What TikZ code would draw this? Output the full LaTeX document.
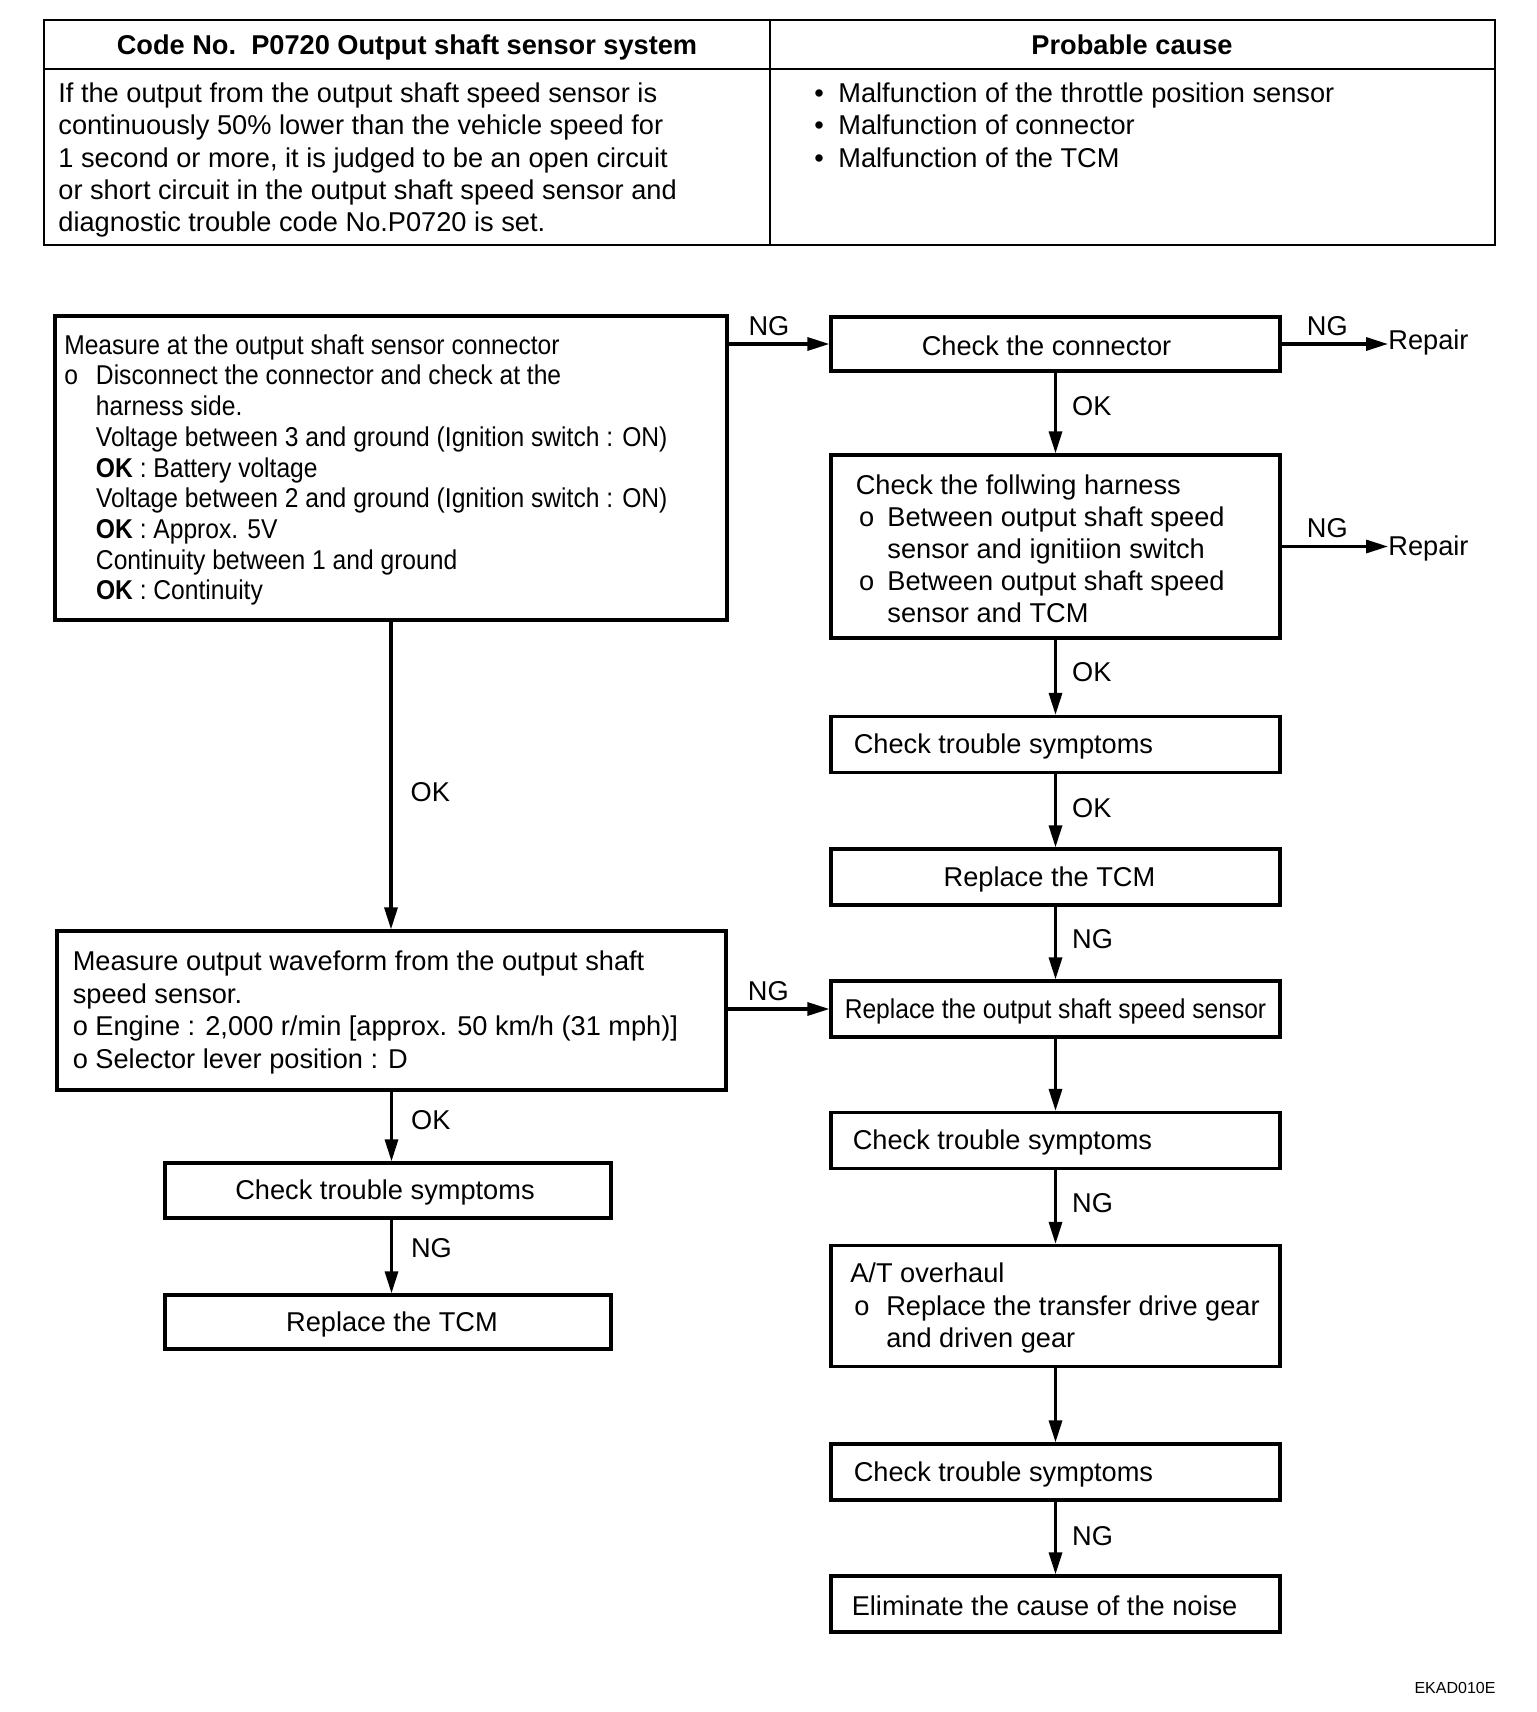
\documentclass[tikz,border=0pt]{standalone}
\usepackage{fontspec}
\setmainfont{Liberation Sans}
\newfontfamily\narrowfont{Liberation Sans}[FakeStretch=0.905]
\usetikzlibrary{arrows.meta,calc}
\newcommand\obul[2]{\makebox[#1][l]{\hspace*{#2}o}}
\newcommand\myind[1]{\hspace*{#1}}
\begin{document}
\begin{tikzpicture}[x=0.5pt,y=-0.5pt,
  every node/.style={inner sep=0pt, font=\fontsize{13.6pt}{16.1pt}\selectfont},
  fbox/.style={draw, line width=1.6pt, minimum width=224.5pt, minimum height=28pt},
  txt/.style={align=left, anchor=west, yshift=-1pt},
  arr/.style={line width=1.6pt, -{Triangle[length=11pt,width=6.5pt]}},
  bold/.style={font=\bfseries\fontsize{13.6pt}{16pt}\selectfont},
  narrow/.style={font=\narrowfont\fontsize{13.6pt}{15.35pt}\selectfont},
]
\useasboundingbox (0,0) rectangle (1536,1712);
% table
\draw[line width=1.1pt] (44,20) rectangle (1495,245);
\draw[line width=1.1pt] (44,69) -- (1495,69) (770,20) -- (770,245);
\node[bold, anchor=base] (h1) at (407,54.5) {Code No.\ \ P0720 Output shaft sensor system};
\node[bold, anchor=base] (h2) at (1132,54.5) {Probable cause};
\node[align=left, anchor=north west] (d1) at (58,82.6) {If the output from the output shaft speed sensor is\\continuously 50\% lower than the vehicle speed for\\1 second or more, it is judged to be an open circuit\\or short circuit in the output shaft speed sensor and\\diagnostic trouble code No.P0720 is set.};
\node[align=left, anchor=north west] (d2) at (814,82.6) {\makebox[12pt][l]{\textbullet}Malfunction of the throttle position sensor\\\makebox[12pt][l]{\textbullet}Malfunction of connector\\\makebox[12pt][l]{\textbullet}Malfunction of the TCM};

% left column
\node[fbox, minimum width=336pt, minimum height=152pt] (A) at (391,468) {};
\node[txt, narrow] (At) at ([xshift=5.25pt]A.west) {Measure at the output shaft sensor connector\\\obul{15.85pt}{0pt}Disconnect the connector and check at the\\\myind{15.85pt}harness side.\\\myind{15.85pt}Voltage between 3 and ground (Ignition switch : ON)\\\myind{15.85pt}\textbf{OK} : Battery voltage\\\myind{15.85pt}Voltage between 2 and ground (Ignition switch : ON)\\\myind{15.85pt}\textbf{OK} : Approx. 5V\\\myind{15.85pt}Continuity between 1 and ground\\\myind{15.85pt}\textbf{OK} : Continuity};

\node[fbox, minimum width=334.5pt, minimum height=79.5pt] (K) at (391.5,1010.5) {};
\node[txt, font=\fontsize{13.6pt}{16.2pt}\selectfont] (Kt) at ([xshift=8.5pt]K.west) {Measure output waveform from the output shaft\\speed sensor.\\o Engine : 2,000 r/min [approx. 50 km/h (31 mph)]\\o Selector lever position : D};

\node[fbox, minimum width=223pt, minimum height=27.5pt] (L) at (388,1190.5) {};
\node[yshift=-1pt, xshift=-1.5pt] (Lt) at (L.center) {Check trouble symptoms};
\node[fbox, minimum width=223pt, minimum height=27pt] (M) at (388,1322) {};
\node[yshift=-1pt, xshift=2pt] (Mt) at (M.center) {Replace the TCM};

% right column
\node[fbox, minimum height=27pt] (B) at (1055.5,344) {};
\node[yshift=-1pt, xshift=-4.5pt] (Bt) at (B.center) {Check the connector};
\node[fbox, minimum height=91.5pt] (C) at (1055.5,546.5) {};
\node[txt, font=\fontsize{13.6pt}{16pt}\selectfont] (Ct) at ([xshift=13pt]C.west) {Check the follwing harness\\\obul{15.8pt}{1.6pt}Between output shaft speed\\\myind{15.8pt}sensor and ignitiion switch\\\obul{15.8pt}{1.6pt}Between output shaft speed\\\myind{15.8pt}sensor and TCM};
\node[fbox] (D) at (1055.5,744.5) {};
\node[txt] (Dt) at ([xshift=12pt]D.west) {Check trouble symptoms};
\node[fbox] (E) at (1055.5,877) {};
\node[yshift=-1pt, xshift=-3pt] (Et) at (E.center) {Replace the TCM};
\node[fbox] (F) at (1055.5,1009) {};
\node[yshift=-1pt, font=\narrowfont\fontsize{13.6pt}{16pt}\selectfont] (Ft) at (F.center) {Replace the output shaft speed sensor};
\node[fbox] (G) at (1055.5,1140.5) {};
\node[txt] (Gt) at ([xshift=11.5pt]G.west) {Check trouble symptoms};
\node[fbox, minimum height=60.5pt] (H) at (1055.5,1306) {};
\node[txt, font=\fontsize{13.6pt}{16.4pt}\selectfont] (Ht) at ([xshift=10.25pt]H.west) {A/T overhaul\\\obul{18pt}{2pt}Replace the transfer drive gear\\\myind{18pt}and driven gear};
\node[fbox] (I) at (1055.5,1472) {};
\node[txt] (It) at ([xshift=12pt]I.west) {Check trouble symptoms};
\node[fbox] (J) at (1055.5,1604) {};
\node[txt] (Jt) at ([xshift=11pt]J.west) {Eliminate the cause of the noise};

\node[anchor=west] (R1) at (1388,342) {Repair};
\node[anchor=west] (R2) at (1388,548) {Repair};

% connectors
\draw[arr] (A.east |- B.west) -- node[above=3.5pt, pos=0.4] {NG} (B.west);
\draw[arr] (B.east) -- node[above=3.5pt, pos=0.43] {NG} (B.east -| R1.west);
\draw[arr] (C.east) -- node[above=3.5pt, pos=0.43] {NG} (C.east -| R2.west);
\draw[arr] (B.south) -- node[right=7.5pt, pos=0.42] {OK} (C.north);
\draw[arr] (C.south) -- node[right=7.5pt, pos=0.43] {OK} (D.north);
\draw[arr] (D.south) -- node[right=7.5pt, pos=0.46] {OK} (E.north);
\draw[arr] (E.south) -- node[right=7.5pt, pos=0.45] {NG} (F.north);
\draw[arr] (F.south) -- (G.north);
\draw[arr] (G.south) -- node[right=7.5pt, pos=0.45] {NG} (H.north);
\draw[arr] (H.south) -- (I.north);
\draw[arr] (I.south) -- node[right=7.5pt, pos=0.47] {NG} (J.north);
\draw[arr] (A.south) -- node[right=9pt, pos=0.555] {OK} (A.south |- K.north);
\draw[arr] (K.east |- F.west) -- node[above=3.5pt, pos=0.4] {NG} (F.west);
\draw[arr] (K.south) -- node[right=9pt, pos=0.41] {OK} (K.south |- L.north);
\draw[arr] (L.south -| K.south) -- node[right=9pt, pos=0.39] {NG} (K.south |- M.north);

\node[font=\fontsize{8pt}{9pt}\selectfont] (code) at (1455,1688) {EKAD010E};
\end{tikzpicture}
\end{document}
